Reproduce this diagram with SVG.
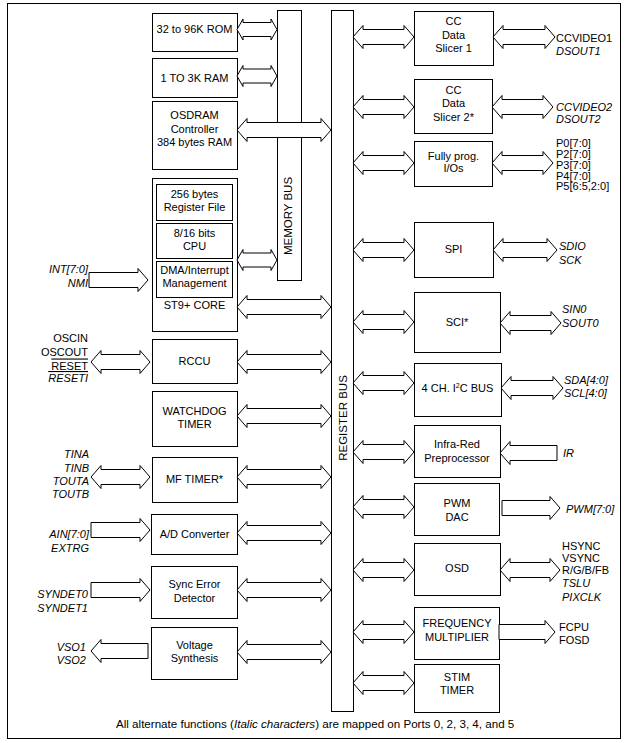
<svg xmlns="http://www.w3.org/2000/svg" width="627" height="743" viewBox="0 0 627 743">
<style>
text{font-family:"Liberation Sans",Arial,sans-serif;font-size:11px;fill:#000}
.c{text-anchor:middle}
.e{text-anchor:end}
.i{font-style:italic}
.bus{font-size:11.5px}
.b{fill:#fff;stroke:#000;stroke-width:1}
.ar{fill:#fff;stroke:#000;stroke-width:1;stroke-linejoin:miter}
.ov{text-decoration:overline}
</style>
<rect x="7.5" y="3.5" width="613" height="735" fill="#fff" stroke="#000"/>

<g id="memory-bus"><rect class="b" x="277.5" y="10.5" width="24" height="270"/><text class="c bus" transform="translate(292,216) rotate(-90)">MEMORY BUS</text></g>
<g id="register-bus"><rect class="b" x="331.5" y="10.5" width="22" height="701"/><text class="c bus" transform="translate(346.5,418) rotate(-90)">REGISTER BUS</text></g>

<g id="rom"><rect class="b" x="152.5" y="13.5" width="85" height="38"/><text class="c" x="194.5" y="33">32 to 96K ROM</text></g>
<g id="ram"><rect class="b" x="152.5" y="58.5" width="85" height="39"/><text class="c" x="194.5" y="82">1 TO 3K RAM</text></g>
<g id="osdram"><rect class="b" x="152.5" y="101.5" width="85" height="68"/><text class="c" x="194.5" y="119">OSDRAM</text><text class="c" x="194.5" y="132.5">Controller</text><text class="c" x="194.5" y="146">384 bytes RAM</text></g>
<g id="st9-core"><rect class="b" x="152.5" y="178.5" width="85" height="153"/>
<rect class="b" x="156.5" y="184.5" width="76" height="36"/><text class="c" x="194.5" y="198">256 bytes</text><text class="c" x="194.5" y="211">Register File</text>
<rect class="b" x="156.5" y="223.5" width="76" height="35"/><text class="c" x="194.5" y="237">8/16 bits</text><text class="c" x="194.5" y="250">CPU</text>
<rect class="b" x="156.5" y="261.5" width="76" height="36"/><text class="c" x="194.5" y="274">DMA/Interrupt</text><text class="c" x="194.5" y="287">Management</text>
<text class="c" x="194.5" y="309">ST9+ CORE</text></g>
<g id="rccu"><rect class="b" x="152.5" y="339.5" width="85" height="44"/><text class="c" x="194.5" y="364.5">RCCU</text></g>
<g id="watchdog"><rect class="b" x="152.5" y="391.5" width="85" height="55"/><text class="c" x="194.5" y="415">WATCHDOG</text><text class="c" x="194.5" y="428">TIMER</text></g>
<g id="mf-timer"><rect class="b" x="152.5" y="457.5" width="85" height="45"/><text class="c" x="194.5" y="483">MF TIMER*</text></g>
<g id="adc"><rect class="b" x="151.5" y="514.5" width="86" height="40"/><text class="c" x="194.5" y="538">A/D Converter</text></g>
<g id="sync-error"><rect class="b" x="151.5" y="566.5" width="86" height="52"/><text class="c" x="194.5" y="588">Sync Error</text><text class="c" x="194.5" y="602">Detector</text></g>
<g id="voltage-synthesis"><rect class="b" x="151.5" y="627.5" width="86" height="52"/><text class="c" x="194.5" y="649">Voltage</text><text class="c" x="194.5" y="662">Synthesis</text></g>

<g id="cc1"><rect class="b" x="414.5" y="11.5" width="79" height="54"/><text class="c" x="453.5" y="25">CC</text><text class="c" x="453.5" y="38.5">Data</text><text class="c" x="453.5" y="51.5">Slicer 1</text></g>
<g id="cc2"><rect class="b" x="414.5" y="79.5" width="78" height="54"/><text class="c" x="453.5" y="93.5">CC</text><text class="c" x="453.5" y="107">Data</text><text class="c" x="453.5" y="121">Slicer 2*</text></g>
<g id="io"><rect class="b" x="414.5" y="141.5" width="78" height="45"/><text class="c" x="453.5" y="159.5">Fully prog.</text><text class="c" x="453.5" y="172">I/Os</text></g>
<g id="spi"><rect class="b" x="414.5" y="222.5" width="79" height="55"/><text class="c" x="453.5" y="253">SPI</text></g>
<g id="sci"><rect class="b" x="414.5" y="292.5" width="86" height="60"/><text class="c" x="457" y="326">SCI*</text></g>
<g id="i2c"><rect class="b" x="414.5" y="363.5" width="87" height="53"/><text class="c" x="457.5" y="392">4 CH. I<tspan font-size="7" dy="-4">2</tspan><tspan dy="4">C BUS</tspan></text></g>
<g id="infra-red"><rect class="b" x="414.5" y="425.5" width="86" height="52"/><text class="c" x="457" y="448">Infra-Red</text><text class="c" x="457" y="462">Preprocessor</text></g>
<g id="pwm"><rect class="b" x="414.5" y="483.5" width="85" height="52"/><text class="c" x="457" y="507">PWM</text><text class="c" x="457" y="520.5">DAC</text></g>
<g id="osd"><rect class="b" x="414.5" y="543.5" width="86" height="52"/><text class="c" x="457" y="572">OSD</text></g>
<g id="freq-mult"><rect class="b" x="414.5" y="607.5" width="85" height="52"/><text class="c" x="457" y="627">FREQUENCY</text><text class="c" x="457" y="641">MULTIPLIER</text></g>
<g id="stim"><rect class="b" x="414.5" y="664.5" width="85" height="48"/><text class="c" x="457" y="681">STIM</text><text class="c" x="457" y="694">TIMER</text></g>

<g id="connectors">
<polygon class="ar" points="237,29.5 243,19 243,22.5 271,22.5 271,19 277,29.5 271,40 271,36.5 243,36.5 243,40"/>
<polygon class="ar" points="237,76 243,65.5 243,69 271,69 271,65.5 277,76 271,86.5 271,83 243,83 243,86.5"/>
<polygon class="ar" points="237,260 243,249.5 243,253 271,253 271,249.5 277,260 271,270.5 271,267 243,267 243,270.5"/>
<polygon class="ar" points="237,130 247,118.5 247,122.5 321,122.5 321,118.5 331,130 321,141.5 321,137.5 247,137.5 247,141.5"/>
<polygon class="ar" points="237,307 247,295.5 247,299.5 321,299.5 321,295.5 331,307 321,318.5 321,314.5 247,314.5 247,318.5"/>
<polygon class="ar" points="237,362 247,350.5 247,354.5 321,354.5 321,350.5 331,362 321,373.5 321,369.5 247,369.5 247,373.5"/>
<polygon class="ar" points="237,416 247,404.5 247,408.5 321,408.5 321,404.5 331,416 321,427.5 321,423.5 247,423.5 247,427.5"/>
<polygon class="ar" points="237,477 247,465.5 247,469.5 321,469.5 321,465.5 331,477 321,488.5 321,484.5 247,484.5 247,488.5"/>
<polygon class="ar" points="237,533 247,521.5 247,525.5 321,525.5 321,521.5 331,533 321,544.5 321,540.5 247,540.5 247,544.5"/>
<polygon class="ar" points="237,590 247,578.5 247,582.5 321,582.5 321,578.5 331,590 321,601.5 321,597.5 247,597.5 247,601.5"/>
<polygon class="ar" points="237,652 247,640.5 247,644.5 321,644.5 321,640.5 331,652 321,663.5 321,659.5 247,659.5 247,663.5"/>
<polygon class="ar" points="89,272.5 138,272.5 138,268.5 148,280 138,291.5 138,287.5 89,287.5"/>
<polygon class="ar" points="91,362 101,350.5 101,354.5 140,354.5 140,350.5 150,362 140,373.5 140,369.5 101,369.5 101,373.5"/>
<polygon class="ar" points="91,477 101,465.5 101,469.5 140,469.5 140,465.5 150,477 140,488.5 140,484.5 101,484.5 101,488.5"/>
<polygon class="ar" points="91,522.5 140,522.5 140,518.5 150,530 140,541.5 140,537.5 91,537.5"/>
<polygon class="ar" points="91,582.5 140,582.5 140,578.5 150,590 140,601.5 140,597.5 91,597.5"/>
<polygon class="ar" points="148,643.5 101,643.5 101,639.5 91,651 101,662.5 101,658.5 148,658.5"/>
<polygon class="ar" points="353,37 363,25.5 363,29.5 404,29.5 404,25.5 414,37 404,48.5 404,44.5 363,44.5 363,48.5"/>
<polygon class="ar" points="353,107 363,95.5 363,99.5 404,99.5 404,95.5 414,107 404,118.5 404,114.5 363,114.5 363,118.5"/>
<polygon class="ar" points="353,163 363,151.5 363,155.5 404,155.5 404,151.5 414,163 404,174.5 404,170.5 363,170.5 363,174.5"/>
<polygon class="ar" points="353,250 363,238.5 363,242.5 404,242.5 404,238.5 414,250 404,261.5 404,257.5 363,257.5 363,261.5"/>
<polygon class="ar" points="353,322 363,310.5 363,314.5 404,314.5 404,310.5 414,322 404,333.5 404,329.5 363,329.5 363,333.5"/>
<polygon class="ar" points="353,383 363,371.5 363,375.5 404,375.5 404,371.5 414,383 404,394.5 404,390.5 363,390.5 363,394.5"/>
<polygon class="ar" points="353,452 363,440.5 363,444.5 404,444.5 404,440.5 414,452 404,463.5 404,459.5 363,459.5 363,463.5"/>
<polygon class="ar" points="353,507 363,495.5 363,499.5 404,499.5 404,495.5 414,507 404,518.5 404,514.5 363,514.5 363,518.5"/>
<polygon class="ar" points="353,570 363,558.5 363,562.5 404,562.5 404,558.5 414,570 404,581.5 404,577.5 363,577.5 363,581.5"/>
<polygon class="ar" points="353,632 363,620.5 363,624.5 404,624.5 404,620.5 414,632 404,643.5 404,639.5 363,639.5 363,643.5"/>
<polygon class="ar" points="353,683 363,671.5 363,675.5 404,675.5 404,671.5 414,683 404,694.5 404,690.5 363,690.5 363,694.5"/>
<polygon class="ar" points="493,37 503,25.5 503,29.5 545,29.5 545,25.5 555,37 545,48.5 545,44.5 503,44.5 503,48.5"/>
<polygon class="ar" points="492,107 502,95.5 502,99.5 543,99.5 543,95.5 553,107 543,118.5 543,114.5 502,114.5 502,118.5"/>
<polygon class="ar" points="492,163 502,151.5 502,155.5 543,155.5 543,151.5 553,163 543,174.5 543,170.5 502,170.5 502,174.5"/>
<polygon class="ar" points="493,250 503,238.5 503,242.5 547,242.5 547,238.5 557,250 547,261.5 547,257.5 503,257.5 503,261.5"/>
<polygon class="ar" points="500,323 510,311.5 510,315.5 551,315.5 551,311.5 561,323 551,334.5 551,330.5 510,330.5 510,334.5"/>
<polygon class="ar" points="501,388 511,376.5 511,380.5 553,380.5 553,376.5 563,388 553,399.5 553,395.5 511,395.5 511,399.5"/>
<polygon class="ar" points="557,445.5 510,445.5 510,441.5 500,453 510,464.5 510,460.5 557,460.5"/>
<polygon class="ar" points="502,500.5 550,500.5 550,496.5 560,508 550,519.5 550,515.5 502,515.5"/>
<polygon class="ar" points="500,570 510,558.5 510,562.5 550,562.5 550,558.5 560,570 550,581.5 550,577.5 510,577.5 510,581.5"/>
<polygon class="ar" points="499,624.5 545,624.5 545,620.5 555,632 545,643.5 545,639.5 499,639.5"/>
</g>

<g id="labels">
<text class="e i" x="88" y="273">INT[7:0]</text>
<text class="e i" x="88" y="287">NMI</text>
<text class="e" x="88" y="342">OSCIN</text>
<text class="e" x="88" y="356">OSCOUT</text>
<text class="e ov" x="88" y="369.5">RESET</text>
<text class="e i ov" x="88" y="382">RESETI</text>
<text class="e i" x="89" y="458">TINA</text>
<text class="e i" x="89" y="472">TINB</text>
<text class="e i" x="89" y="485">TOUTA</text>
<text class="e i" x="89" y="498">TOUTB</text>
<text class="e i" x="89" y="538">AIN[7:0]</text>
<text class="e i" x="89" y="552">EXTRG</text>
<text class="e i" x="88" y="598">SYNDET0</text>
<text class="e i" x="88" y="611.5">SYNDET1</text>
<text class="e i" x="86" y="651">VSO1</text>
<text class="e i" x="86" y="664">VSO2</text>
<text x="556" y="42">CCVIDEO1</text>
<text class="i" x="556" y="55">DSOUT1</text>
<text class="i" x="556" y="111">CCVIDEO2</text>
<text class="i" x="556" y="123">DSOUT2</text>
<text x="556" y="147">P0[7:0]</text>
<text x="556" y="158">P2[7:0]</text>
<text x="556" y="168.5">P3[7:0]</text>
<text x="556" y="179.5">P4[7:0]</text>
<text x="556" y="190">P5[6:5,2:0]</text>
<text class="i" x="559" y="250">SDIO</text>
<text class="i" x="559" y="264">SCK</text>
<text class="i" x="562" y="313">SIN0</text>
<text class="i" x="562" y="327">SOUT0</text>
<text class="i" x="564" y="384">SDA[4:0]</text>
<text class="i" x="564" y="397">SCL[4:0]</text>
<text class="i" x="563" y="457">IR</text>
<text class="i" x="566" y="513">PWM[7:0]</text>
<text x="562" y="549.5">HSYNC</text>
<text x="562" y="562">VSYNC</text>
<text x="562" y="574">R/G/B/FB</text>
<text class="i" x="562" y="587">TSLU</text>
<text class="i" x="562" y="601">PIXCLK</text>
<text x="559" y="631">FCPU</text>
<text x="559" y="644">FOSD</text>
<text x="116" y="728" style="font-size:11.6px">All alternate functions (<tspan class="i">Italic characters</tspan>) are mapped on Ports 0, 2, 3, 4, and 5</text>
</g>
</svg>
